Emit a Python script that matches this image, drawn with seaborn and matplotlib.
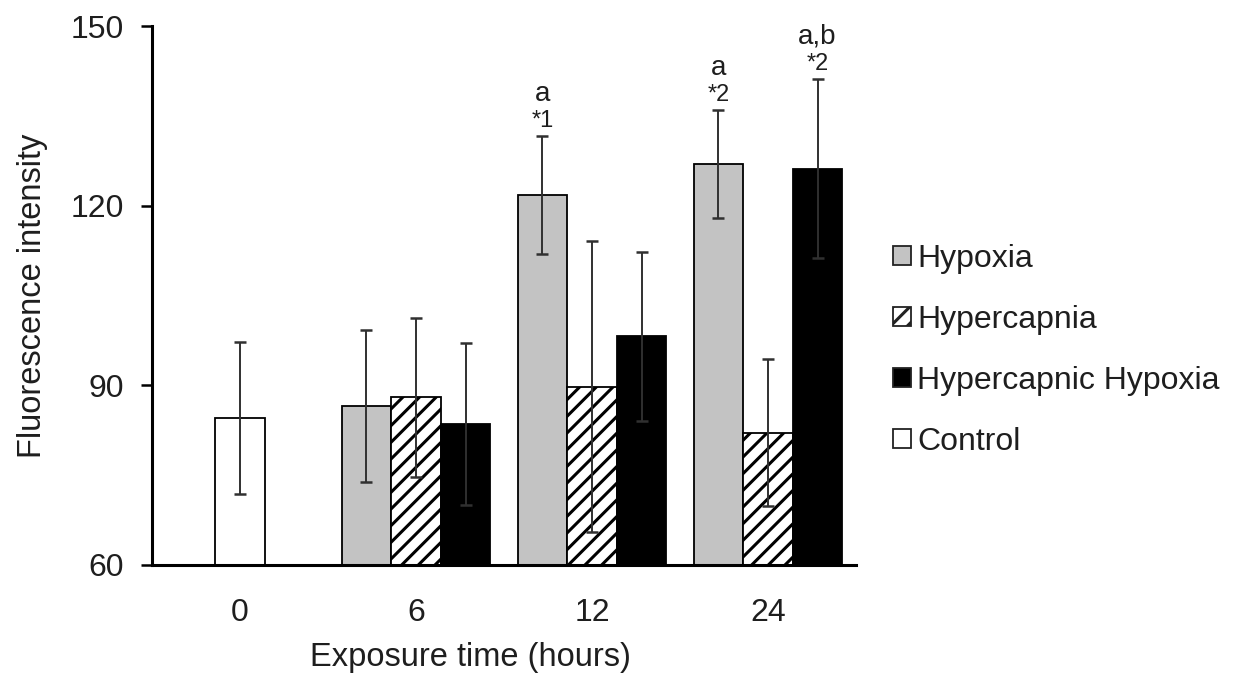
import numpy as np
import pandas as pd
import matplotlib
matplotlib.use("Agg")
import matplotlib.pyplot as plt
import seaborn as sns
from matplotlib.patches import Patch

times = ["0", "6", "12", "24"]
groups = ["Hypoxia", "Hypercapnia", "Hypercapnic Hypoxia", "Control"]

# means and SDs (None = no bar)
hypoxia_mean = [None, 86.6, 121.8, 126.9]
hypoxia_sd = [None, 12.7, 9.8, 9.0]
hypercapnia_mean = [None, 88.0, 89.8, 82.1]
hypercapnia_sd = [None, 13.3, 24.3, 12.3]
hh_mean = [None, 83.5, 98.2, 126.2]
hh_sd = [None, 13.5, 14.1, 15.0]
control_mean = [84.5, None, None, None]
control_sd = [12.7, None, None, None]

# significance marks: (group, time, letter, star)
annotations = [
    ("Hypoxia", "12", "a", "*1"),
    ("Hypoxia", "24", "a", "*2"),
    ("Hypercapnic Hypoxia", "24", "a,b", "*2"),
]

means = [hypoxia_mean, hypercapnia_mean, hh_mean, control_mean]
sds = [hypoxia_sd, hypercapnia_sd, hh_sd, control_sd]
slot_of = {"Hypoxia": "L", "Hypercapnia": "M", "Hypercapnic Hypoxia": "R", "Control": "M"}
face = {"Hypoxia": "#c3c3c3", "Hypercapnia": "white", "Hypercapnic Hypoxia": "black", "Control": "white"}
hatch = {"Hypoxia": "", "Hypercapnia": "//", "Hypercapnic Hypoxia": "", "Control": ""}

rows = []
for g, m_list, s_list in zip(groups, means, sds):
    for t, m, s in zip(times, m_list, s_list):
        if m is not None:
            rows.append({"time": t, "group": g, "slot": slot_of[g], "mean": m, "sd": s})
df = pd.DataFrame(rows)

sns.set_theme(style="white")
plt.rcParams["font.family"] = ["Liberation Sans", "DejaVu Sans"]
plt.rcParams["hatch.linewidth"] = 2.2
txt = "#1e1e1e"

fig = plt.figure(figsize=(12.36, 6.77), dpi=100)
ax = fig.add_axes([152 / 1236, 1 - 565 / 677, 704 / 1236, 539 / 677])

sns.barplot(data=df, x="time", y="mean", hue="slot", order=times,
            hue_order=["L", "M", "R"], width=0.844, errorbar=None,
            legend=False, saturation=1, palette=["white"] * 3, ax=ax)

centers = {}
for p in ax.patches:
    h = p.get_height()
    if not np.isfinite(h) or h == 0:
        continue
    cx = p.get_x() + p.get_width() / 2
    ti = int(round(cx))
    off = cx - ti
    slot = "L" if off < -0.1 else ("R" if off > 0.1 else "M")
    r = df[(df["time"] == times[ti]) & (df["slot"] == slot)].iloc[0]
    p.set_facecolor(face[r["group"]])
    p.set_edgecolor("black")
    p.set_linewidth(1.3)
    p.set_hatch(hatch[r["group"]])
    centers[(r["group"], r["time"])] = cx
    ax.errorbar(cx, r["mean"], yerr=r["sd"], fmt="none", ecolor="#303030",
                elinewidth=1.4, capsize=4, capthick=1.8, zorder=4)

for g, t, letter, star in annotations:
    r = df[(df["group"] == g) & (df["time"] == t)].iloc[0]
    top = r["mean"] + r["sd"]
    cx = centers[(g, t)]
    ax.text(cx, top + 2.5, star, ha="center", va="center", fontsize=17, color=txt)
    ax.text(cx, top + 7.1, letter, ha="center", va="center", fontsize=20, color=txt)

ax.set_ylim(60, 150)
ax.set_xlim(-0.5, 3.5)
ax.set_yticks([60, 90, 120, 150])
ax.set_xticks(range(len(times)))
ax.set_xticklabels(times)
ax.set_xticks(np.arange(-0.5, 3.6, 1.0), minor=True)
ax.tick_params(axis="x", which="major", length=0, pad=24, labelsize=23, colors=txt)
ax.tick_params(axis="x", which="minor", length=7, width=1.8, direction="out", color="black")
ax.tick_params(axis="y", length=8, width=1.8, direction="out", pad=12, labelsize=23,
               color="black", labelcolor=txt)
ax.tick_params(axis="both", bottom=True, left=True)
for side in ["top", "right"]:
    ax.spines[side].set_visible(False)
for side in ["left", "bottom"]:
    ax.spines[side].set_color("black")
    ax.spines[side].set_linewidth(2.2)

ax.set_xlabel("Exposure time (hours)", fontsize=23.5, color=txt)
ax.set_ylabel("Fluorescence intensity", fontsize=23.5, color=txt)
ax.xaxis.set_label_coords(0.453, -0.143)
ax.yaxis.set_label_coords(-0.148, 0.5)

handles = [Patch(facecolor=face[g], edgecolor="#222222", hatch=hatch[g], linewidth=1.3)
           for g in groups]
fig.legend(handles, groups, loc="upper left", bbox_to_anchor=(877 / 1236, 1 - 228 / 677),
           frameon=False, fontsize=23, handlelength=0.55, handleheight=0.55,
           handletextpad=0.2, labelspacing=0.97, borderpad=0, labelcolor=txt)

fig.savefig("out.png", dpi=100)
